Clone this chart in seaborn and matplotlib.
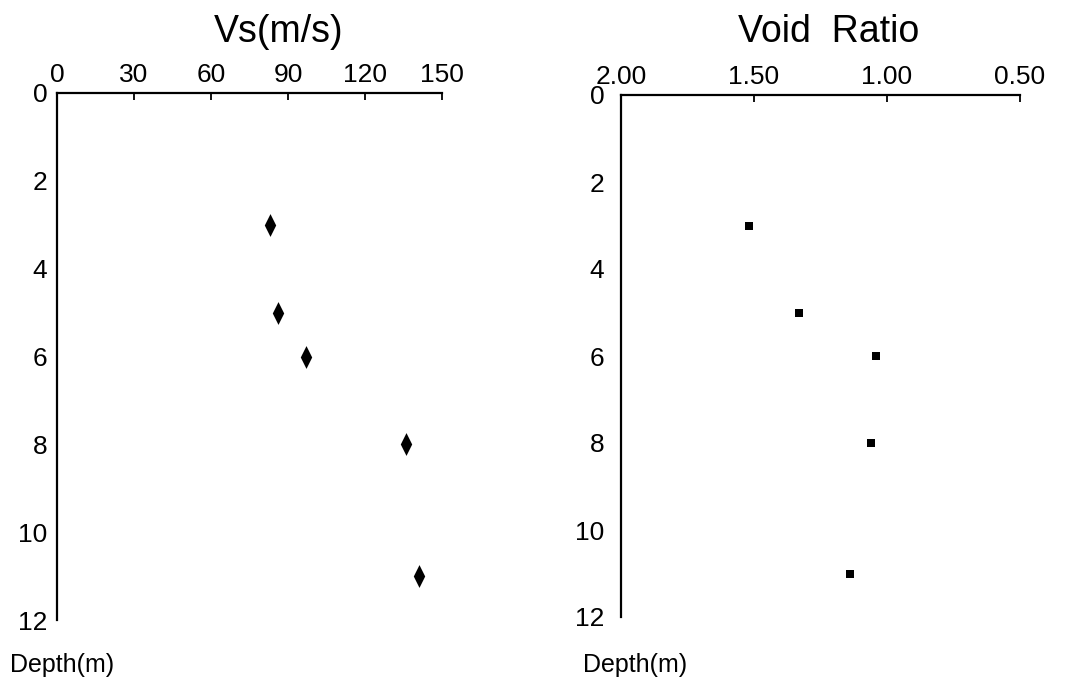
import numpy as np
import pandas as pd
import seaborn as sns
import matplotlib.pyplot as plt
from matplotlib.path import Path

# data
depth = [3, 5, 6, 8, 11]
vs = [83, 86, 97, 136, 141]
void_ratio = [1.52, 1.33, 1.04, 1.06, 1.14]

vs_ticks = [0, 30, 60, 90, 120, 150]
e_ticks = [2.0, 1.5, 1.0, 0.5]
e_ticklabels = ["2.00", "1.50", "1.00", "0.50"]
depth_ticks = [0, 2, 4, 6, 8, 10, 12]

sns.set_style("white")
plt.rcParams['font.family'] = ['Liberation Sans', 'DejaVu Sans']
plt.rcParams['text.color'] = 'black'

fig = plt.figure(figsize=(10.82, 6.79), dpi=100)
ax1 = fig.add_axes([57 / 1082, 1 - 620 / 679, 385 / 1082, 527 / 679])
ax2 = fig.add_axes([621 / 1082, 1 - 617 / 679, 399 / 1082, 522 / 679])

# thin diamond marker
diamond = Path([(0, 1), (0.5, 0), (0, -1), (-0.5, 0), (0, 1)],
               [Path.MOVETO, Path.LINETO, Path.LINETO, Path.LINETO, Path.CLOSEPOLY])

df1 = pd.DataFrame({"vs": vs, "depth": depth})
df2 = pd.DataFrame({"e": void_ratio, "depth": depth})

sns.scatterplot(data=df1, x="vs", y="depth", marker=diamond, s=270, color="black",
                edgecolor="black", linewidth=0, ax=ax1)
sns.scatterplot(data=df2, x="e", y="depth", marker="s", s=40, color="black",
                edgecolor="black", linewidth=0, ax=ax2)

for ax in (ax1, ax2):
    ax.set_ylim(12, 0)
    ax.set_yticks(depth_ticks)
    ax.xaxis.tick_top()
    ax.spines["right"].set_visible(False)
    ax.spines["bottom"].set_visible(False)
    for side in ("top", "left"):
        ax.spines[side].set_linewidth(1.6)
        ax.spines[side].set_color("black")
    ax.tick_params(axis="both", direction="in", length=5, width=1.3,
                   labelsize=19, colors="black")
    ax.tick_params(axis="x", pad=4)
    ax.tick_params(axis="y", pad=7)
    ax.set_xlabel("")
    ax.set_ylabel("")

ax1.set_xlim(0, 150)
ax1.set_xticks(vs_ticks)
ax2.set_xlim(2.0, 0.5)
ax2.set_xticks(e_ticks)
ax2.set_xticklabels(e_ticklabels)
ax2.tick_params(axis="y", pad=12)

fig.text(279 / 1082, 1 - 32 / 679, "Vs(m/s)", fontsize=27, ha="center", va="center")
fig.text(829 / 1082, 1 - 32 / 679, "Void  Ratio", fontsize=27, ha="center", va="center")
fig.text(10 / 1082, 1 - 665 / 679, "Depth(m)", fontsize=18, ha="left", va="center")
fig.text(583 / 1082, 1 - 665 / 679, "Depth(m)", fontsize=18, ha="left", va="center")

fig.savefig("out.png", dpi=100)
